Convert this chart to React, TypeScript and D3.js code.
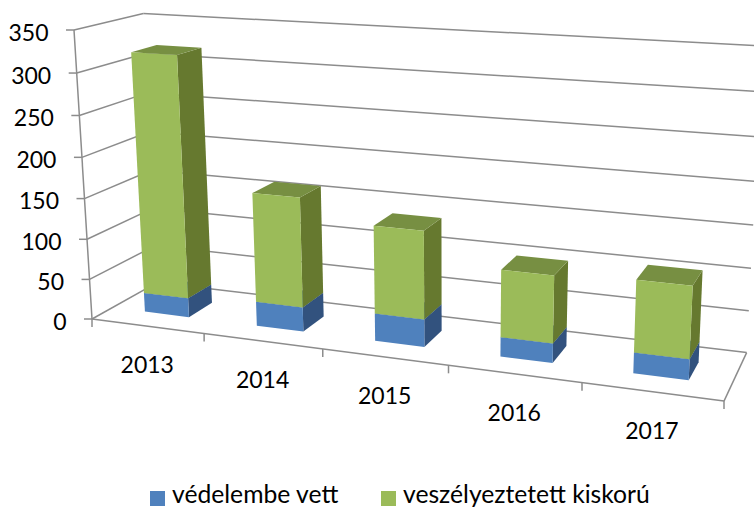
import React from "react";
import * as d3 from "d3";

const years = ["2013", "2014", "2015", "2016", "2017"];
const seriesNames = ["védelembe vett", "veszélyeztetett kiskorú"];
const protectedValues = [24, 30, 33, 23, 24];
const endangeredValues = [296, 133, 105, 79, 83];
const yTicks = [0, 50, 100, 150, 200, 250, 300, 350];

const frontColors = ["#4f81bd", "#9bbb59"];
const sideColors = ["#32527e", "#66792f"];
const topColors = ["#3f6797", "#778f42"];
const gridColor = "#8c8c8c";

const width = 754;
const height = 508;

// camera: the origin corner, three axis ends and their vanishing points
const origin: number[] = [92, 319];
const axisEnds = { u: [724, 401], v: [74, 30], w: [157, 283] };
const vanish = { u: [-3880, -197], v: [451, 6086], w: [1000, -190] };

const weight = (end: number[], vp: number[]) =>
  Math.abs(vp[0] - end[0]) > Math.abs(vp[1] - end[1])
    ? (end[0] - origin[0]) / (vp[0] - end[0])
    : (end[1] - origin[1]) / (vp[1] - end[1]);

const au = weight(axisEnds.u, vanish.u);
const av = weight(axisEnds.v, vanish.v);
const aw = weight(axisEnds.w, vanish.w);

const project = (u: number, v: number, w: number): [number, number] => {
  const d = au * u + av * v + aw * w + 1;
  return [
    (au * u * vanish.u[0] + av * v * vanish.v[0] + aw * w * vanish.w[0] + origin[0]) / d,
    (au * u * vanish.u[1] + av * v * vanish.v[1] + aw * w * vanish.w[1] + origin[1]) / d,
  ];
};

const xBand = d3.scaleBand().domain(years).range([0, 1]).paddingInner(0.6).paddingOuter(0.3);
const yValue = d3.scaleLinear().domain([0, 350]).range([0, 1]);
const barFront = 0.3;
const barBack = 0.68;

const rows = years.map((year, i) => ({
  year,
  a: protectedValues[i],
  b: endangeredValues[i],
}));
const stacked = d3.stack<any>().keys(["a", "b"])(rows);

const poly = d3.line();
const seg = (a: [number, number], b: [number, number]) => poly([a, b]) as string;
const face = (pts: [number, number][]) => (poly(pts) as string) + "Z";

const fontFamily = "Lato, Carlito, sans-serif";

export default function App() {
  const axisLine = { stroke: gridColor, strokeWidth: 1.5, fill: "none" };
  return (
    <svg
      width={width}
      height={height}
      viewBox={`0 0 ${width} ${height}`}
      style={{ position: "absolute", left: 0, top: 0, background: "#fff" }}
      fontFamily={fontFamily}
    >
      {/* walls */}
      {yTicks.map((t) => {
        const v = yValue(t);
        const front = project(0, v, 0);
        return (
          <g key={t}>
            <path d={seg(front, project(0, v, 1))} {...axisLine} />
            <path d={seg(project(0, v, 1), project(1, v, 1))} {...axisLine} />
            <path d={seg([front[0] - 8, front[1]], front)} {...axisLine} />
            <text x={front[0] - 25.5} y={front[1] + 10.5} textAnchor="end" fontSize={23} fill="#000">
              {t}
            </text>
          </g>
        );
      })}
      <path d={seg(project(0, 0, 0), project(0, 1, 0))} {...axisLine} />

      {/* floor */}
      <path d={seg(project(0, 0, 0), project(1, 0, 0))} {...axisLine} />
      <path d={seg(project(1, 0, 0), project(1, 0, 1))} {...axisLine} />
      {d3.range(years.length + 1).map((i) => {
        const p = project(i / years.length, 0, 0);
        return <path key={i} d={seg(p, [p[0], p[1] + 8])} {...axisLine} />;
      })}

      {/* columns */}
      {years.map((year, i) => {
        const u0 = xBand(year) as number;
        const u1 = u0 + xBand.bandwidth();
        return (
          <g key={year}>
            {stacked.map((layer, s) => {
              const v0 = yValue(layer[i][0]);
              const v1 = yValue(layer[i][1]);
              return (
                <g key={s}>
                  <path
                    fill={sideColors[s]}
                    d={face([
                      project(u1, v0, barFront),
                      project(u1, v0, barBack),
                      project(u1, v1, barBack),
                      project(u1, v1, barFront),
                    ])}
                  />
                  <path
                    fill={topColors[s]}
                    d={face([
                      project(u0, v1, barFront),
                      project(u1, v1, barFront),
                      project(u1, v1, barBack),
                      project(u0, v1, barBack),
                    ])}
                  />
                  <path
                    fill={frontColors[s]}
                    d={face([
                      project(u0, v0, barFront),
                      project(u1, v0, barFront),
                      project(u1, v1, barFront),
                      project(u0, v1, barFront),
                    ])}
                  />
                </g>
              );
            })}
          </g>
        );
      })}

      {/* category labels */}
      {years.map((year) => {
        const mid = (xBand(year) as number) + xBand.bandwidth() / 2;
        const p = project(mid, 0, 0);
        return (
          <text key={year} x={p[0]} y={p[1] + 47} textAnchor="middle" fontSize={23} fill="#000">
            {year}
          </text>
        );
      })}

      {/* legend */}
      <rect x={150} y={491} width={15} height={15} fill={frontColors[0]} />
      <text x={172} y={503} fontSize={24.7} fill="#000">
        {seriesNames[0]}
      </text>
      <rect x={381} y={491} width={15} height={15} fill={frontColors[1]} />
      <text x={403} y={503} fontSize={24.7} fill="#000">
        {seriesNames[1]}
      </text>
    </svg>
  );
}
